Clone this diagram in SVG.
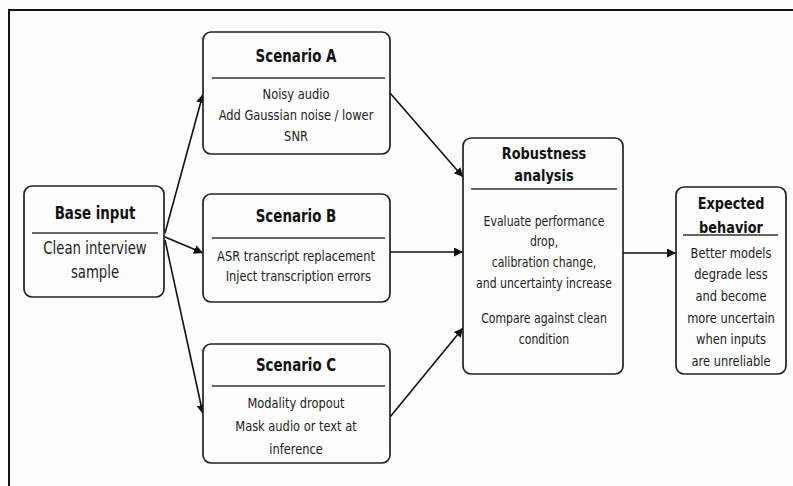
<svg xmlns="http://www.w3.org/2000/svg" width="793" height="486" viewBox="0 0 793 486">
  <defs>
    <marker id="arrow" viewBox="0 0 10 10" refX="10" refY="5" markerWidth="9" markerHeight="9" markerUnits="userSpaceOnUse" orient="auto">
      <path d="M0,0 L10,5 L0,10 z" fill="#111"/>
    </marker>
    <style>
      .box { fill: #fdfdfd; stroke: #222; stroke-width: 1.7; }
      .rule { stroke: #333; stroke-width: 1.3; }
      .title { font-family: "DejaVu Sans", sans-serif; font-weight: bold; font-size: 17px; fill: #111; text-anchor: middle; }
      .body { font-family: "DejaVu Sans", sans-serif; font-size: 14.5px; fill: #222; text-anchor: middle; }
      .edge { stroke: #111; stroke-width: 1.6; fill: none; marker-end: url(#arrow); }
    </style>
  </defs>

  <rect x="0" y="0" width="793" height="486" fill="#fdfdfd"/>
  <!-- outer frame, runs off the right and bottom edges -->
  <rect x="9" y="10" width="800" height="490" fill="none" stroke="#111" stroke-width="2"/>

  <g id="connectors">
    <line class="edge" x1="165" y1="233" x2="203" y2="94"/>
    <line class="edge" x1="165" y1="237" x2="203" y2="253"/>
    <line class="edge" x1="165" y1="240" x2="203" y2="414"/>
    <line class="edge" x1="390" y1="93" x2="463" y2="177"/>
    <line class="edge" x1="390" y1="252" x2="463" y2="252"/>
    <line class="edge" x1="390" y1="417" x2="463" y2="328"/>
    <line class="edge" x1="623" y1="253" x2="676" y2="253"/>
  </g>

  <!-- node labels are drawn in a horizontally narrowed frame centred on each box -->
  <g id="base-input">
    <rect class="box" x="24" y="186" width="140" height="111" rx="8"/>
    <line class="rule" x1="32" y1="233" x2="158" y2="233"/>
    <g transform="translate(95 0) scale(0.79 1)">
      <text class="title" x="0" y="219">Base input</text>
      <text class="body" x="0" y="254" style="font-size:16.8px">Clean interview</text>
      <text class="body" x="0" y="278" style="font-size:16.8px">sample</text>
    </g>
  </g>

  <g id="scenario-a">
    <rect class="box" x="203" y="32" width="187" height="122" rx="8"/>
    <line class="rule" x1="212" y1="78" x2="385" y2="78"/>
    <g transform="translate(296 0) scale(0.79 1)">
      <text class="title" x="0" y="62">Scenario A</text>
      <text class="body" x="0" y="99">Noisy audio</text>
      <text class="body" x="0" y="120">Add Gaussian noise / lower</text>
      <text class="body" x="0" y="141">SNR</text>
    </g>
  </g>

  <g id="scenario-b">
    <rect class="box" x="203" y="194" width="187" height="108" rx="8"/>
    <line class="rule" x1="212" y1="238" x2="385" y2="238"/>
    <g transform="translate(296 0) scale(0.79 1)">
      <text class="title" x="0" y="222">Scenario B</text>
      <text class="body" x="0" y="261">ASR transcript replacement</text>
      <text class="body" x="3" y="281">Inject transcription errors</text>
    </g>
  </g>

  <g id="scenario-c">
    <rect class="box" x="203" y="344" width="187" height="119" rx="8"/>
    <line class="rule" x1="212" y1="386" x2="385" y2="386"/>
    <g transform="translate(296 0) scale(0.79 1)">
      <text class="title" x="0" y="371">Scenario C</text>
      <text class="body" x="0" y="408">Modality dropout</text>
      <text class="body" x="0" y="431">Mask audio or text at</text>
      <text class="body" x="0" y="454">inference</text>
    </g>
  </g>

  <g id="robustness-analysis">
    <rect class="box" x="463" y="138" width="160" height="236" rx="8"/>
    <line class="rule" x1="471" y1="189" x2="617" y2="189"/>
    <g transform="translate(544 0) scale(0.79 1)">
      <text class="title" x="0" y="159" style="font-size:16.4px">Robustness</text>
      <text class="title" x="0" y="181" style="font-size:16.4px">analysis</text>
      <text class="body" x="0" y="226" style="font-size:13.8px">Evaluate performance</text>
      <text class="body" x="0" y="246" style="font-size:13.8px">drop,</text>
      <text class="body" x="0" y="267" style="font-size:13.8px">calibration change,</text>
      <text class="body" x="0" y="288" style="font-size:13.8px">and uncertainty increase</text>
      <text class="body" x="0" y="323" style="font-size:13.8px">Compare against clean</text>
      <text class="body" x="0" y="344" style="font-size:13.8px">condition</text>
    </g>
  </g>

  <g id="expected-behavior">
    <rect class="box" x="676" y="187" width="110" height="187" rx="8"/>
    <line class="rule" x1="683" y1="235" x2="778" y2="235"/>
    <g transform="translate(731 0) scale(0.79 1)">
      <text class="title" x="0" y="209" style="font-size:16.3px">Expected</text>
      <text class="title" x="0" y="233" style="font-size:16.3px">behavior</text>
      <text class="body" x="0" y="258">Better models</text>
      <text class="body" x="0" y="279">degrade less</text>
      <text class="body" x="0" y="301">and become</text>
      <text class="body" x="0" y="323">more uncertain</text>
      <text class="body" x="0" y="344">when inputs</text>
      <text class="body" x="0" y="366">are unreliable</text>
    </g>
  </g>
</svg>
